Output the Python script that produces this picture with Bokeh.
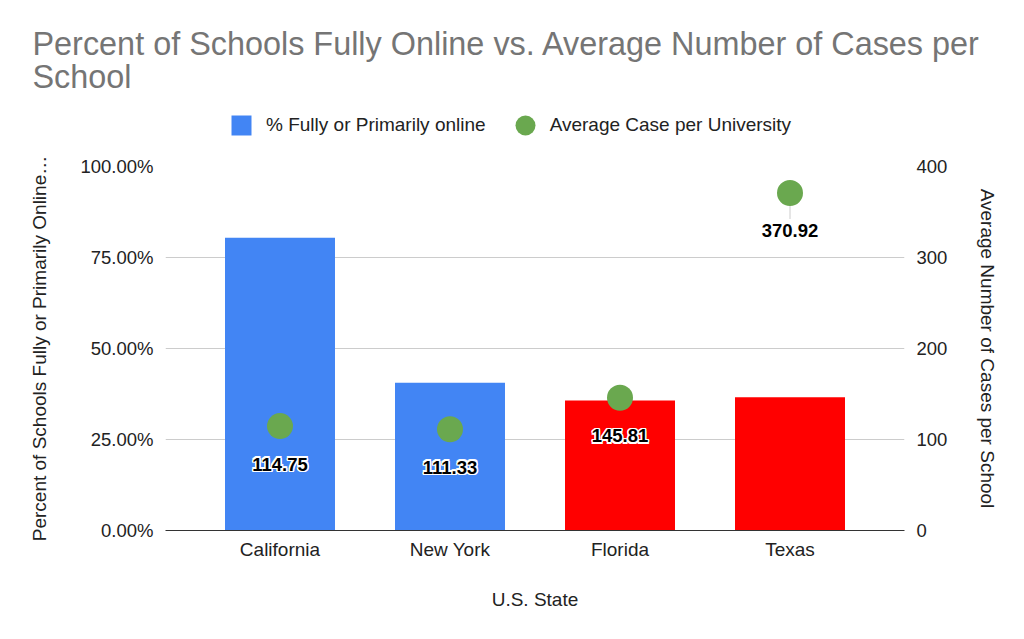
from bokeh.plotting import figure
from bokeh.layouts import column
from bokeh.models import (Range1d, LinearAxis, FixedTicker, NumeralTickFormatter,
                          Legend, LegendItem, FactorRange, ColumnDataSource)
from bokeh.core.properties import value
from bokeh.embed import file_html
from bokeh.resources import INLINE

# ---- data ----
states = ["California", "New York", "Florida", "Texas"]
pct_online = [0.804, 0.406, 0.357, 0.366]
avg_cases = [114.75, 111.33, 145.81, 370.92]
case_labels = ["114.75", "111.33", "145.81", "370.92"]
bar_colors = ["#4285F4", "#4285F4", "#FF0000", "#FF0000"]
pct_ticks = [0, 0.25, 0.5, 0.75, 1.0]
case_ticks = [0, 100, 200, 300, 400]

TITLE = "Percent of Schools Fully Online vs. Average Number of Cases per\nSchool"
FONT = "Liberation Sans"
BLUE = "#4285F4"
GREEN = "#6AA84F"
TXT = "#222222"
W = 1016

src = ColumnDataSource(dict(state=states, pct=pct_online, cases=avg_cases,
                            label=case_labels, color=bar_colors,
                            stem_end=[c - 28.6 for c in avg_cases]))

# ---------------- header: title + legend ----------------
top = figure(width=W, height=146,
             x_range=FactorRange(factors=states, range_padding=0.1735, range_padding_units="absolute"),
             y_range=Range1d(0, 1),
             x_axis_type=None, y_axis_type=None, output_backend="svg", toolbar_location=None,
             min_border_left=165, min_border_right=112, min_border_top=95, min_border_bottom=0)
top.outline_line_color = None
top.grid.visible = False
top.title.text = TITLE
top.title.text_font = FONT
top.title.text_font_size = "32.4px"
top.title.text_font_style = "normal"
top.title.text_color = "#757575"
top.title.align = "left"
top.title.offset = -133
top.title.standoff = 0
top.title.text_line_height = 0.92

# legend swatches (size 0: they draw nothing themselves, only their legend glyphs)
sq_proxy = top.scatter(x="state", y="pct", source=src, marker="square", size=0,
                       fill_color=BLUE, line_color=None)
ci_proxy = top.scatter(x="state", y="pct", source=src, marker="circle", size=0,
                       fill_color=GREEN, line_color=None)
legend = Legend(items=[LegendItem(label="% Fully or Primarily online", renderers=[sq_proxy]),
                       LegendItem(label="Average Case per University", renderers=[ci_proxy])],
                orientation="horizontal", location=(51, -4),
                glyph_width=50, glyph_height=50, label_standoff=0, spacing=14,
                padding=0, margin=0, border_line_color=None, background_fill_alpha=0,
                label_text_font=FONT, label_text_font_size="19px", label_text_color=TXT)
top.add_layout(legend, "center")

# ---------------- main chart ----------------
p = figure(
    x_range=FactorRange(factors=states, range_padding=0.1735, range_padding_units="absolute"),
    y_range=Range1d(0, 1),
    width=W, height=469, title=None,
    output_backend="svg", toolbar_location=None,
    min_border_left=165, min_border_right=112, min_border_top=20, min_border_bottom=85,
)
p.extra_y_ranges = {"cases": Range1d(0, 400)}
p.outline_line_color = None

p.xgrid.grid_line_color = None
p.ygrid.ticker = FixedTicker(ticks=pct_ticks)
p.ygrid.grid_line_color = "#cccccc"

la = p.yaxis[0]
la.ticker = FixedTicker(ticks=pct_ticks)
la.formatter = NumeralTickFormatter(format="0.00%")
la.axis_label = "Percent of Schools Fully or Primarily Online\u2026"

ra = LinearAxis(y_range_name="cases", ticker=FixedTicker(ticks=case_ticks),
                axis_label="Average Number of Cases per School")
p.add_layout(ra, "right")

for ax in (la, ra):
    ax.axis_line_color = None
    ax.major_tick_line_color = None
    ax.minor_tick_line_color = None
    ax.major_tick_out = 0
    ax.major_tick_in = 0
    ax.major_label_text_font = FONT
    ax.major_label_text_font_size = "18.5px"
    ax.major_label_text_color = TXT
    ax.major_label_standoff = 12
    ax.axis_label_text_font = FONT
    ax.axis_label_text_font_size = "19px"
    ax.axis_label_text_font_style = "normal"
    ax.axis_label_text_color = TXT
la.axis_label_standoff = 27
ra.axis_label_standoff = 27

xa = p.xaxis[0]
xa.axis_label = "U.S. State"
xa.axis_line_color = "#333333"
xa.axis_line_width = 1
xa.major_tick_line_color = None
xa.minor_tick_line_color = None
xa.major_tick_out = 0
xa.major_tick_in = 0
xa.major_label_text_font = FONT
xa.major_label_text_font_size = "19px"
xa.major_label_text_color = TXT
xa.major_label_standoff = 8
xa.axis_label_text_font = FONT
xa.axis_label_text_font_size = "19px"
xa.axis_label_text_font_style = "normal"
xa.axis_label_text_color = TXT
xa.axis_label_standoff = 26

# stems (drawn below the bars)
p.segment(x0="state", y0="cases", x1="state", y1="stem_end", source=src,
          y_range_name="cases", line_color="#cccccc", line_width=1)

# bars
p.vbar(x="state", top="pct", width=0.647, source=src, fill_color="color", line_color=None)

# points
p.scatter(x="state", y="cases", source=src, y_range_name="cases", marker="circle",
          size=26, fill_color=GREEN, line_color=None)

# labels with white halo
offs = [(-1.5, 0), (1.5, 0), (0, -1.5), (0, 1.5), (-1.2, -1.2), (1.2, -1.2), (-1.2, 1.2), (1.2, 1.2)]
for dx, dy in offs:
    p.text(x="state", y="cases", text="label", source=src, y_range_name="cases",
           x_offset=dx, y_offset=38 + dy, text_align="center", text_baseline="middle",
           text_font=value(FONT), text_font_style="bold", text_font_size="18.5px",
           text_color="white")
p.text(x="state", y="cases", text="label", source=src, y_range_name="cases",
       y_offset=38, text_align="center", text_baseline="middle",
       text_font=value(FONT), text_font_style="bold", text_font_size="18.5px",
       text_color="black")

layout = column(top, p, spacing=0)
open("out.html", "w").write(file_html(layout, INLINE))
